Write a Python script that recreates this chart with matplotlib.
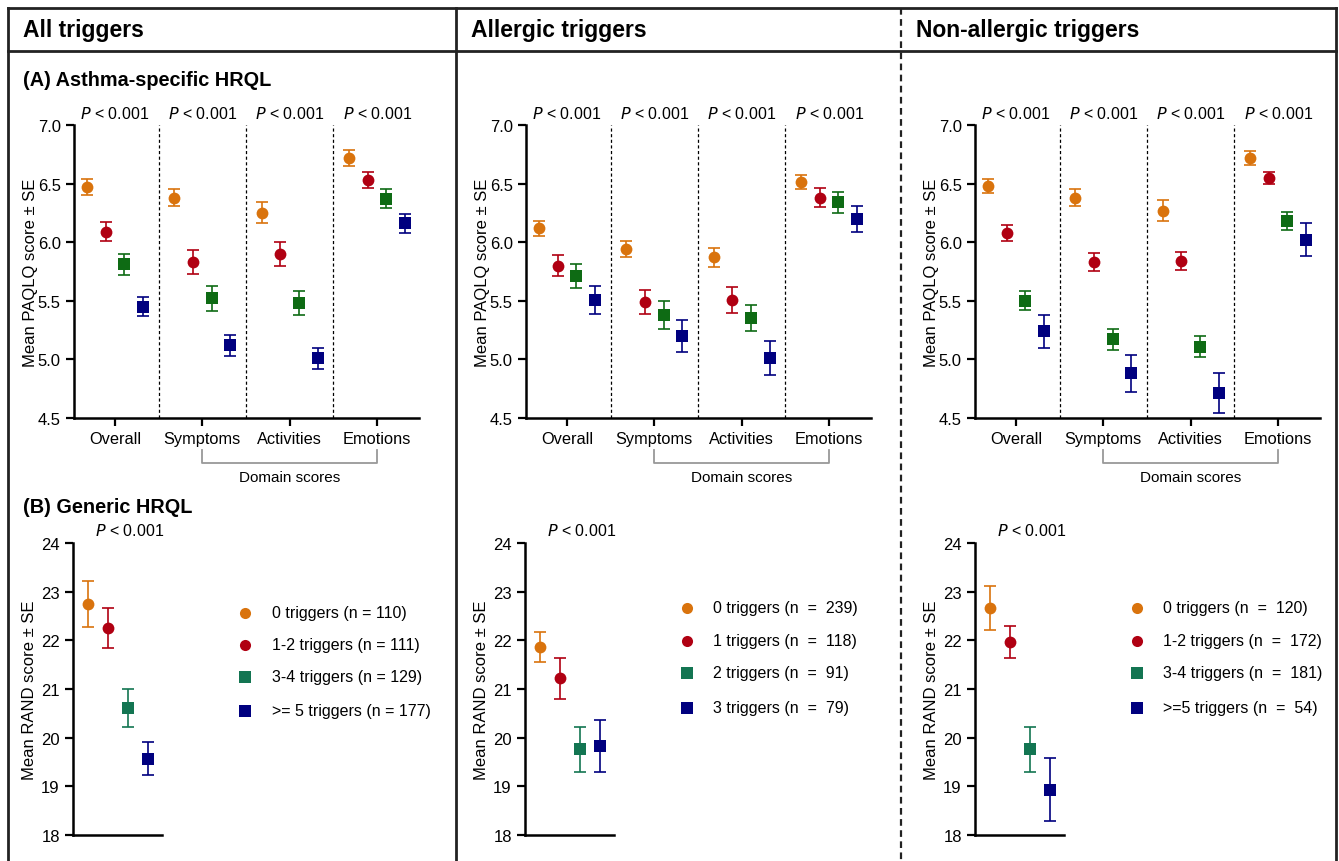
import matplotlib
matplotlib.use("Agg")
import matplotlib.pyplot as plt
from matplotlib.lines import Line2D

plt.rcParams["font.family"] = ["Liberation Sans", "DejaVu Sans"]

W, H = 1339, 862

# ---- data -------------------------------------------------------------
domains = ["Overall", "Symptoms", "Activities", "Emotions"]
groups = ["All triggers", "Allergic triggers", "Non-allergic triggers"]

# PAQLQ means, one row per trigger group (0, 1-2, 3-4, >=5 etc.), one column per domain
paqlq_all = [[6.47, 6.38, 6.25, 6.72],
             [6.09, 5.83, 5.90, 6.53],
             [5.81, 5.52, 5.48, 6.37],
             [5.45, 5.12, 5.01, 6.16]]
paqlq_all_se = [[0.07, 0.07, 0.09, 0.07],
                [0.08, 0.10, 0.10, 0.07],
                [0.09, 0.11, 0.10, 0.08],
                [0.08, 0.09, 0.09, 0.08]]

paqlq_alg = [[6.12, 5.94, 5.87, 6.51],
             [5.80, 5.49, 5.51, 6.38],
             [5.71, 5.38, 5.35, 6.34],
             [5.51, 5.20, 5.01, 6.20]]
paqlq_alg_se = [[0.065, 0.07, 0.08, 0.06],
                [0.09, 0.10, 0.11, 0.08],
                [0.10, 0.12, 0.11, 0.09],
                [0.12, 0.14, 0.145, 0.11]]

paqlq_non = [[6.48, 6.38, 6.27, 6.72],
             [6.08, 5.83, 5.84, 6.55],
             [5.50, 5.17, 5.11, 6.18],
             [5.24, 4.88, 4.71, 6.02]]
paqlq_non_se = [[0.06, 0.07, 0.09, 0.06],
                [0.07, 0.08, 0.08, 0.05],
                [0.08, 0.09, 0.09, 0.08],
                [0.14, 0.16, 0.17, 0.14]]

# RAND means per trigger group
rand_all = [22.74, 22.26, 20.61, 19.57]
rand_all_se = [0.47, 0.41, 0.39, 0.335]
rand_alg = [21.86, 21.22, 19.76, 19.83]
rand_alg_se = [0.31, 0.42, 0.46, 0.53]
rand_non = [22.67, 21.97, 19.76, 18.93]
rand_non_se = [0.45, 0.33, 0.46, 0.65]

legend_all = ["0 triggers (n = 110)", "1-2 triggers (n = 111)",
              "3-4 triggers (n = 129)", ">= 5 triggers (n = 177)"]
legend_alg = ["0 triggers (n  =  239)", "1 triggers (n  =  118)",
              "2 triggers (n  =  91)", "3 triggers (n  =  79)"]
legend_non = ["0 triggers (n  =  120)", "1-2 triggers (n  =  172)",
              "3-4 triggers (n  =  181)", ">=5 triggers (n  =  54)"]

colors_a = ["#D9730D", "#B00012", "#0E6B14", "#00007F"]
colors_b = ["#D9730D", "#B00012", "#137552", "#00007F"]
markers = ["o", "o", "s", "s"]
offsets = [-0.32, -0.107, 0.107, 0.32]


def box(left, top, right, bottom):
    return [left / W, 1 - bottom / H, (right - left) / W, (bottom - top) / H]


def style_axes(ax):
    for s in ["top", "right"]:
        ax.spines[s].set_visible(False)
    for s in ["left", "bottom"]:
        ax.spines[s].set_linewidth(1.8)
    ax.tick_params(width=1.6, length=6, labelsize=12, color="black")


def points(ax, xs, ys, es, marker, color):
    ax.errorbar(xs, ys, yerr=es, fmt="none", ecolor=color, elinewidth=1.2,
                capsize=4, capthick=1.2)
    ax.plot(xs, ys, ls="none", marker=marker, color=color, ms=8.5, mew=0, zorder=3)


fig = plt.figure(figsize=(W / 100, H / 100), dpi=100)

# ---- frame -------------------------------------------------------------
frame = fig.add_axes([0, 0, 1, 1])
frame.set_xlim(0, W)
frame.set_ylim(H, 0)
frame.axis("off")
lc = "#222222"
frame.add_line(Line2D([8, 8], [9, 870], color=lc, lw=2))
frame.add_line(Line2D([1336, 1336], [9, 870], color=lc, lw=2))
frame.add_line(Line2D([8, 1336], [9, 9], color=lc, lw=2))
frame.add_line(Line2D([8, 1336], [52, 52], color=lc, lw=2))
frame.add_line(Line2D([456, 456], [9, 870], color=lc, lw=2))
frame.add_line(Line2D([901, 901], [9, 870], color=lc, lw=1.6, ls=(0, (3, 2))))

head_x = [23, 471, 916]
for x, g in zip(head_x, groups):
    frame.text(x, 31, g, fontsize=16.5, fontweight="bold", va="center", ha="left")
frame.text(23, 80, "(A) Asthma-specific HRQL", fontsize=14.3, fontweight="bold",
           va="center", ha="left")
frame.text(23, 508, "(B) Generic HRQL", fontsize=14.3, fontweight="bold",
           va="center", ha="left")

# ---- panel A -----------------------------------------------------------
a_lefts = [74, 526, 975]
paqlq = [(paqlq_all, paqlq_all_se), (paqlq_alg, paqlq_alg_se), (paqlq_non, paqlq_non_se)]
for left, (means, ses) in zip(a_lefts, paqlq):
    ax = fig.add_axes(box(left, 126, left + 345, 419))
    style_axes(ax)
    for g in range(4):
        xs = [d + offsets[g] for d in range(len(domains))]
        points(ax, xs, means[g], ses[g], markers[g], colors_a[g])
    ax.set_xlim(-0.47, 3.48)
    ax.set_ylim(4.5, 7.0)
    ax.set_yticks([4.5, 5.0, 5.5, 6.0, 6.5, 7.0])
    ax.set_yticklabels(["4.5", "5.0", "5.5", "6.0", "6.5", "7.0"])
    ax.set_xticks(range(len(domains)))
    ax.set_xticklabels(domains, fontsize=11.8)
    ax.set_ylabel("Mean PAQLQ score \u00b1 SE", fontsize=12, labelpad=0)
    for b in [0.5, 1.5, 2.5]:
        ax.axvline(b, color="black", lw=0.9, ls=(0, (2.5, 2)))
    for d in range(len(domains)):
        ax.text(d, 7.03, "$P$ < 0.001", fontsize=11.5, ha="center", va="bottom",
                clip_on=False)
    # domain scores bracket
    ax.plot([1, 1, 3, 3], [4.227, 4.116, 4.116, 4.227], color="#999999", lw=1.3,
            clip_on=False)
    ax.text(2, 4.0, "Domain scores", fontsize=11, ha="center", va="center")

# ---- panel B -----------------------------------------------------------
b_lefts = [73, 525, 975]
rand = [(rand_all, rand_all_se, legend_all), (rand_alg, rand_alg_se, legend_alg),
        (rand_non, rand_non_se, legend_non)]
leg_pos = [(245, 272, [614, 646, 678, 712]),
           (687, 713, [609, 642, 674, 709]),
           (1137, 1163, [609, 642, 674, 709])]
for left, (means, ses, labels), (mx, tx, rows) in zip(b_lefts, rand, leg_pos):
    ax = fig.add_axes(box(left, 544, left + 89, 836))
    style_axes(ax)
    for g in range(4):
        points(ax, [g], [means[g]], [ses[g]], markers[g], colors_b[g])
    ax.set_xlim(-0.735, 3.715)
    ax.set_ylim(18, 24)
    ax.set_yticks(range(18, 25))
    ax.set_xticks([])
    ax.set_ylabel("Mean RAND score \u00b1 SE", fontsize=12, labelpad=3)
    ax.text(2.1, 24.1, "$P$ < 0.001", fontsize=11.5, ha="center", va="bottom",
            clip_on=False)
    for g in range(4):
        frame.plot([mx], [rows[g]], marker=markers[g], color=colors_b[g], ms=8, mew=0)
        frame.text(tx, rows[g], labels[g], fontsize=11.5, va="center", ha="left")

fig.savefig("out.png", dpi=100)
